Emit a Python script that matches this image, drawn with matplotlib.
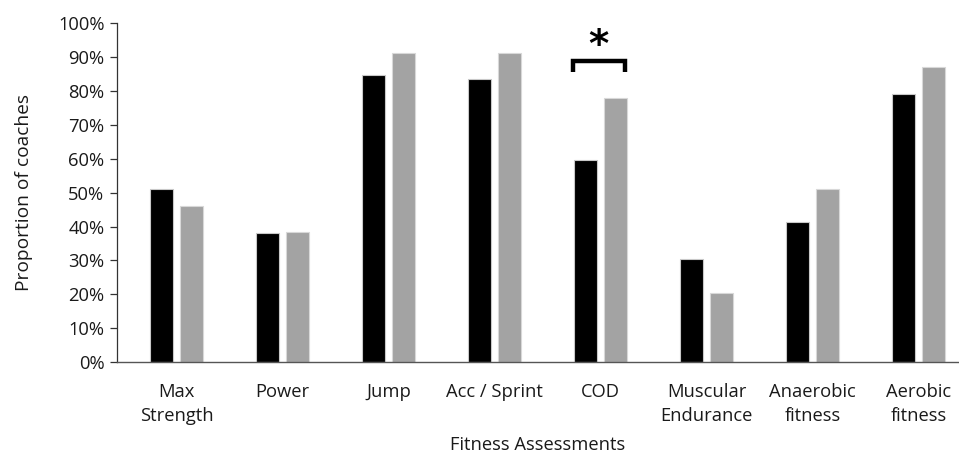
import matplotlib
matplotlib.use("Agg")
import matplotlib.pyplot as plt
import numpy as np

categories = ["Max\nStrength", "Power", "Jump", "Acc / Sprint", "COD",
              "Muscular\nEndurance", "Anaerobic\nfitness", "Aerobic\nfitness"]
series_black = [51.0, 38.0, 84.8, 83.6, 59.7, 30.3, 41.3, 79.2]
series_gray = [46.0, 38.4, 91.1, 91.1, 78.1, 20.5, 51.2, 87.2]
yticks = [0, 10, 20, 30, 40, 50, 60, 70, 80, 90, 100]

plt.rcParams['font.family'] = ['Open Sans', 'DejaVu Sans']

fig = plt.figure(figsize=(9.59, 4.54), dpi=100)
ax = fig.add_axes([0.122, 0.2026, 0.878, 0.746])

x = np.arange(len(categories))
w = 0.223
off = 0.1415
ax.bar(x - off, series_black, w, color='black', edgecolor='#c8c8c8', linewidth=0.8, zorder=2)
ax.bar(x + off, series_gray, w, color='#a3a3a3', edgecolor='#d8d8d8', linewidth=0.8, zorder=2)

ax.set_xlim(-0.561, 7.382)
ax.set_ylim(0, 100)
ax.set_yticks(yticks)
ax.set_yticklabels([f"{t}%" for t in yticks], fontsize=13.2, color='#1a1a1a')
ax.set_xticks(x)
ax.set_xticklabels(categories, fontsize=13.2, color='#1a1a1a', linespacing=1.45)
ax.tick_params(axis='x', length=0, pad=15)
ax.tick_params(axis='y', length=5, width=0.9, color='#333333', pad=4)

for s in ['top', 'right']:
    ax.spines[s].set_visible(False)
ax.spines['left'].set_color('#333333')
ax.spines['bottom'].set_color('#555555')
ax.spines['left'].set_linewidth(0.9)
ax.spines['bottom'].set_linewidth(1.0)

ax.set_ylabel("Proportion of coaches", fontsize=13.8, color='#1a1a1a', labelpad=18)
ax.set_xlabel("Fitness Assessments", fontsize=13.2, color='#1a1a1a', labelpad=8)

# significance bracket over COD
ax.plot([3.74, 3.74, 4.23, 4.23], [85.7, 88.9, 88.9, 85.7], color='black',
        lw=3.2, solid_joinstyle='miter', solid_capstyle='butt', zorder=3, clip_on=False)
ax.text(3.985, 93.2, "*", ha='center', va='center', fontsize=28,
        fontweight='bold', family='DejaVu Sans', color='black')

fig.savefig("out.png", dpi=100)
